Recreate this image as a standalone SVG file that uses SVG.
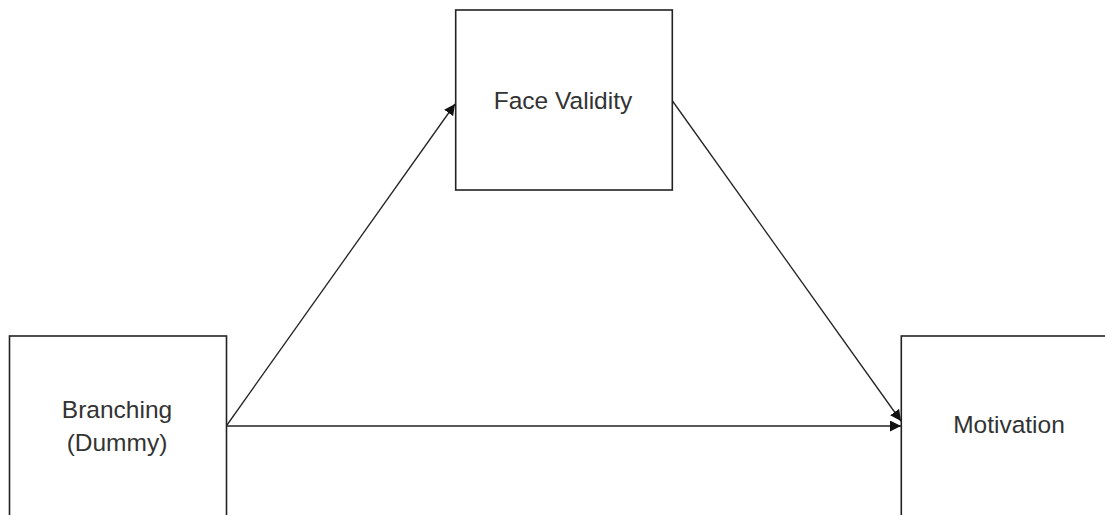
<svg xmlns="http://www.w3.org/2000/svg" width="1105" height="515" viewBox="0 0 1105 515">
<style>
.box{fill:#fff;stroke:#222;stroke-width:1.6}
.lbl{font-family:"Liberation Sans",Arial,sans-serif;font-size:24.5px;fill:#333;text-anchor:middle}
.edge{stroke:#222;stroke-width:1.3;fill:none}
</style>
<defs>
<marker id="arr" viewBox="0 0 10 10" refX="10" refY="5" markerWidth="11" markerHeight="11" markerUnits="userSpaceOnUse" orient="auto">
<path d="M0,0 L10,5 L0,10 z" fill="#111"/>
</marker>
</defs>
<rect width="1105" height="515" fill="#fff"/>
<g id="branching">
<rect class="box" x="9.5" y="336" width="217" height="200"/>
<text class="lbl" x="117" y="418">Branching</text>
<text class="lbl" x="117" y="451">(Dummy)</text>
</g>
<g id="face-validity">
<rect class="box" x="455.7" y="10" width="216.6" height="180"/>
<text class="lbl" x="563" y="109">Face Validity</text>
</g>
<g id="motivation">
<rect class="box" x="901.3" y="336" width="220" height="200"/>
<text class="lbl" x="1009" y="433">Motivation</text>
</g>
<g id="connectors">
<line class="edge" x1="227" y1="425" x2="455" y2="104" marker-end="url(#arr)"/>
<line class="edge" x1="672.5" y1="101" x2="901" y2="421" marker-end="url(#arr)"/>
<line class="edge" x1="227" y1="426" x2="901" y2="426" marker-end="url(#arr)"/>
</g>
</svg>
